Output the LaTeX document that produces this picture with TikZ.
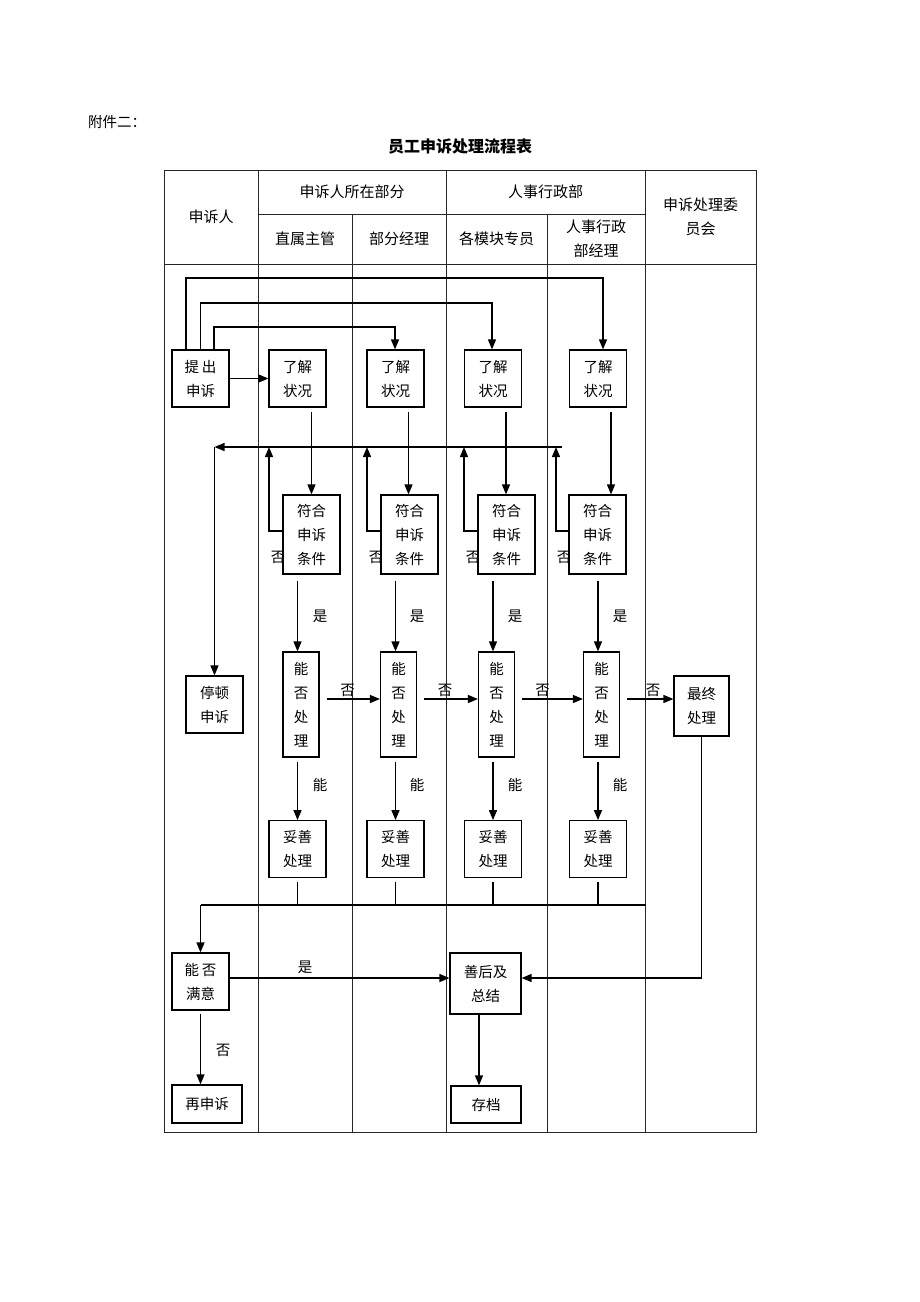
\documentclass[tikz,border=0pt]{standalone}
\usepackage{fontspec}
\setmainfont{Noto Sans CJK SC}
\usetikzlibrary{arrows.meta}
\begin{document}
\begin{tikzpicture}[x=1pt,y=-1pt,
 tbl/.style={line width=0.8pt,draw=black!85},
 box/.style={draw,line width=1.2pt,fill=white,align=center,inner sep=0pt,font=\fontsize{14.5}{24}\selectfont},
 sq/.style={box,minimum width=57pt,minimum height=57pt},
 tallbox/.style={box,minimum width=57pt,minimum height=79pt},
 narrow/.style={box,minimum width=36pt,minimum height=105pt},
 hd/.style={font=\fontsize{15}{24}\selectfont,inner sep=0pt,align=center},
 lbl/.style={font=\fontsize{14.5}{16}\selectfont,inner sep=0pt},
 con/.style={line width=1.4pt},
 arr/.style={con,-{Triangle[length=10pt,width=8pt]}},
]
\useasboundingbox (0,0) rectangle (920,1302);
\fill[white] (0,0) rectangle (920,1302);
% title
\node[anchor=west,font=\fontsize{14.5}{16}\selectfont,inner sep=0pt] (att) at (88,122) {附件二：};
\node[font=\fontsize{16}{18}\bfseries\selectfont,inner sep=0pt] (title) at (460,146) {员工申诉处理流程表};
% table
\draw[tbl] (164,170) rectangle (756,1132);
\draw[tbl] (258,214) -- (645,214);
\draw[tbl] (164,264) -- (756,264);
\draw[tbl] (258,170) -- (258,1132);
\draw[tbl] (352,214) -- (352,1132);
\draw[tbl] (446,170) -- (446,1132);
\draw[tbl] (547,214) -- (547,1132);
\draw[tbl] (645,170) -- (645,1132);
% headers
\node[hd] (h0) at (211,217) {申诉人};
\node[hd] (h1) at (352,192) {申诉人所在部分};
\node[hd] (h2) at (545.5,192) {人事行政部};
\node[hd] (h3) at (700.5,216.5) {申诉处理委\\员会};
\node[hd] (h11) at (305,239) {直属主管};
\node[hd] (h12) at (399,239) {部分经理};
\node[hd] (h21) at (496.5,239) {各模块专员};
\node[hd] (h22) at (596,239) {人事行政\\部经理};
% labels hidden partly behind boxes
\node[lbl] (no1) at (278,557) {否};
\node[lbl] (no2) at (376,557) {否};
\node[lbl] (no3) at (473,557) {否};
\node[lbl] (no4) at (564,557) {否};
% nodes
\node[sq] (tc) at (200.5,378.5) {提\hspace{3pt}出\\申诉};
\node[sq] (l1) at (297.5,378.5) {了解\\状况};
\node[sq] (l2) at (395.5,378.5) {了解\\状况};
\node[sq] (l3) at (493,378.5) {了解\\状况};
\node[sq] (l4) at (598,378.5) {了解\\状况};
\node[tallbox] (f1) at (311.5,534.5) {符合\\申诉\\条件};
\node[tallbox] (f2) at (409.5,534.5) {符合\\申诉\\条件};
\node[tallbox] (f3) at (506.5,534.5) {符合\\申诉\\条件};
\node[tallbox] (f4) at (597.5,534.5) {符合\\申诉\\条件};
\node[sq] (p) at (214.5,704.5) {停顿\\申诉};
\node[narrow] (n1) at (301,704.5) {能\\否\\处\\理};
\node[narrow] (n2) at (398.5,704.5) {能\\否\\处\\理};
\node[narrow] (n3) at (496.5,704.5) {能\\否\\处\\理};
\node[narrow] (n4) at (601.5,704.5) {能\\否\\处\\理};
\node[box,minimum width=55pt,minimum height=60pt] (z) at (701.5,706) {最终\\处理};
\node[sq] (t1) at (297.5,849.2) {妥善\\处理};
\node[sq] (t2) at (395.5,849.2) {妥善\\处理};
\node[sq] (t3) at (493,849.2) {妥善\\处理};
\node[sq] (t4) at (598,849.2) {妥善\\处理};
\node[sq] (s) at (200.5,981.5) {能\hspace{3pt}否\\满意};
\node[box,minimum width=71pt,minimum height=61pt] (h) at (485.5,983.5) {善后及\\总结};
\node[box,minimum width=70pt,minimum height=38pt] (r) at (207,1104) {再申诉};
\node[box,minimum width=70pt,minimum height=37pt] (a) at (486,1104.5) {存档};
% top routing
\coordinate (top1) at (603,278);
\coordinate (top2) at (492,303);
\coordinate (top3) at (395,327);
\draw[arr] ([xshift=-14.5pt]tc.north) |- (top1) -- (top1 |- l4.north);
\draw[arr] (tc.north) |- (top2) -- (top2 |- l3.north);
\draw[arr] ([xshift=13.5pt]tc.north) |- (top3) -- (top3 |- l2.north);
\draw[arr] (tc.east) -- (l1.west);
% understand -> conditions
\coordinate (c1) at (311.5,0);
\coordinate (c2) at (408.5,0);
\coordinate (c3) at (506,0);
\coordinate (c4) at (611,0);
\draw[arr,shorten <=4pt] (c1 |- l1.south) -- (c1 |- f1.north);
\draw[arr,shorten <=4pt] (c2 |- l2.south) -- (c2 |- f2.north);
\draw[arr,shorten <=4pt] (c3 |- l3.south) -- (c3 |- f3.north);
\draw[arr,shorten <=4pt] (c4 |- l4.south) -- (c4 |- f4.north);
% feedback (no)
\coordinate (b1) at (269,447);
\coordinate (b2) at (367,447);
\coordinate (b3) at (464,447);
\coordinate (b4) at (556,447);
\draw[arr] ([yshift=3.5pt]f1.west) -| (b1);
\draw[arr] ([yshift=3.5pt]f2.west) -| (b2);
\draw[arr] ([yshift=3.5pt]f3.west) -| (b3);
\draw[arr] ([yshift=3.5pt]f4.west) -| (b4);
\coordinate (bR) at (562,447);
\coordinate (bL) at (214.5,447);
\draw[arr] (bR) -- (bL);
\draw[arr] (bL) -- (p.north);
% conditions -> can handle
\draw[arr,shorten <=6pt] (l1 |- f1.south) -- (l1 |- n1.north);
\draw[arr,shorten <=6pt] (l2 |- f2.south) -- (l2 |- n2.north);
\draw[arr,shorten <=6pt] (l3 |- f3.south) -- (l3 |- n3.north);
\draw[arr,shorten <=6pt] (l4 |- f4.south) -- (l4 |- n4.north);
\node[lbl] (y1) at (320,616) {是};
\node[lbl] (y2) at (417,616) {是};
\node[lbl] (y3) at (515,616) {是};
\node[lbl] (y4) at (620,616) {是};
% no -> next level
\coordinate (ny) at (0,699);
\draw[arr,shorten <=7pt] (n1.east |- ny) -- (n2.west |- ny);
\draw[arr,shorten <=7pt] (n2.east |- ny) -- (n3.west |- ny);
\draw[arr,shorten <=7pt] (n3.east |- ny) -- (n4.west |- ny);
\draw[arr,shorten <=7pt] (n4.east |- ny) -- (z.west |- ny);
\node[lbl] (o1) at (347.5,690) {否};
\node[lbl] (o2) at (445,690) {否};
\node[lbl] (o3) at (542.5,690) {否};
\node[lbl] (o4) at (653,690) {否};
% can -> handle properly
\draw[arr,shorten <=4pt] (l1 |- n1.south) -- (t1.north);
\draw[arr,shorten <=4pt] (l2 |- n2.south) -- (t2.north);
\draw[arr,shorten <=4pt] (l3 |- n3.south) -- (t3.north);
\draw[arr,shorten <=4pt] (l4 |- n4.south) -- (t4.north);
\node[lbl] (k1) at (320,785) {能};
\node[lbl] (k2) at (417,785) {能};
\node[lbl] (k3) at (515,785) {能};
\node[lbl] (k4) at (620,785) {能};
% bus to satisfaction
\coordinate (busR) at (645.5,905);
\draw[con,shorten <=4pt] (t1.south) -- (t1.south |- busR);
\draw[con,shorten <=4pt] (t2.south) -- (t2.south |- busR);
\draw[con,shorten <=4pt] (t3.south) -- (t3.south |- busR);
\draw[con,shorten <=4pt] (t4.south) -- (t4.south |- busR);
\draw[con] (busR) -- (s.north |- busR);
\draw[arr] (s.north |- busR) -- (s.north);
% bottom
\coordinate (hy) at (0,978);
\draw[arr] (s.east |- hy) -- (h.west |- hy);
\node[lbl] (yes5) at (305,967) {是};
\draw[arr] (z.south) |- (h.east |- hy);
\draw[arr,shorten <=3pt] (s.south) -- (s.south |- r.north);
\node[lbl] (no5) at (223,1050) {否};
\coordinate (ax) at (479,0);
\draw[arr] (ax |- h.south) -- (ax |- a.north);
\end{tikzpicture}
\end{document}
